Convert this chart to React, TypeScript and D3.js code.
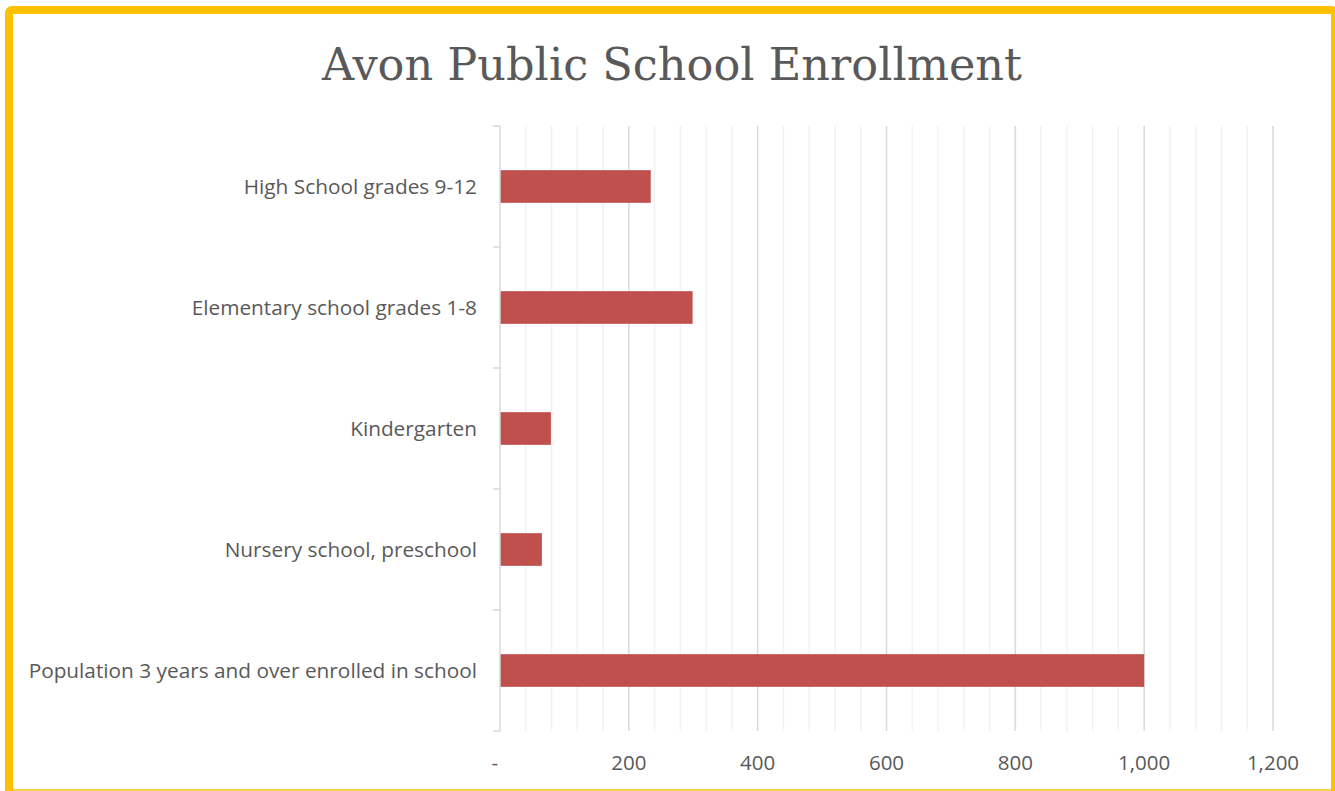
import React, { useEffect, useRef } from "react";
import * as d3 from "d3";

// categories top to bottom as drawn
const categories = [
  "High School grades 9-12",
  "Elementary school grades 1-8",
  "Kindergarten",
  "Nursery school, preschool",
  "Population 3 years and over enrolled in school",
];
const enrollment = [234, 299, 79, 65, 1000];
const xTicks = [0, 200, 400, 600, 800, 1000, 1200];

const W = 1335;
const H = 791;

const App = () => {
  const ref: any = useRef();

  useEffect(() => {
    const svg = d3.select(ref.current);
    svg.selectAll("*").remove();

    const margin = { top: 126, right: 62, bottom: 60, left: 500 };

    // frame (right and bottom edges run off the picture)
    svg
      .append("rect")
      .attr("x", 9)
      .attr("y", 10)
      .attr("width", 1326)
      .attr("height", 800)
      .attr("rx", 3)
      .attr("fill", "#fff")
      .attr("stroke", "#FFC000")
      .attr("stroke-width", 8);
    svg
      .append("line")
      .attr("x1", 5)
      .attr("x2", 1335)
      .attr("y1", 790)
      .attr("y2", 790)
      .attr("stroke", "#FFC000")
      .attr("stroke-width", 1.5);

    svg
      .append("text")
      .attr("x", 672)
      .attr("y", 80)
      .attr("text-anchor", "middle")
      .attr("font-family", "'DejaVu Serif', serif")
      .attr("font-size", 44)
      .attr("textLength", 700)
      .attr("lengthAdjust", "spacingAndGlyphs")
      .attr("fill", "#595959")
      .text("Avon Public School Enrollment");

    const x = d3
      .scaleLinear()
      .domain([0, 1200])
      .range([margin.left, W - margin.right]);

    const y = d3
      .scaleBand()
      .domain(categories)
      .range([margin.top, 731])
      .paddingInner(0.73)
      .paddingOuter(0.365);

    const g = svg.append("g");

    // minor gridlines
    g.append("g")
      .selectAll("line")
      .data(d3.range(40, 1201, 40).filter((v) => v % 200 !== 0))
      .join("line")
      .attr("x1", (d) => x(d))
      .attr("x2", (d) => x(d))
      .attr("y1", margin.top)
      .attr("y2", 731)
      .attr("stroke", "#F2F2F2")
      .attr("stroke-width", 1.5);

    // major gridlines
    g.append("g")
      .selectAll("line")
      .data(xTicks.slice(1))
      .join("line")
      .attr("x1", (d) => x(d))
      .attr("x2", (d) => x(d))
      .attr("y1", margin.top)
      .attr("y2", 731)
      .attr("stroke", "#D9D9D9")
      .attr("stroke-width", 1.5);

    // bars
    g.append("g")
      .selectAll("rect")
      .data(categories)
      .join("rect")
      .attr("x", x(0))
      .attr("y", (d) => y(d) as number)
      .attr("width", (d, i) => x(enrollment[i]) - x(0))
      .attr("height", y.bandwidth())
      .attr("fill", "#C0504D");

    // y axis line and category ticks
    g.append("line")
      .attr("x1", x(0))
      .attr("x2", x(0))
      .attr("y1", margin.top)
      .attr("y2", 731)
      .attr("stroke", "#D9D9D9")
      .attr("stroke-width", 1.5);

    const step = y.step();
    const bandTop = (y(categories[0]) as number) - (step * y.paddingInner()) / 2;
    g.append("g")
      .selectAll("line")
      .data(d3.range(categories.length + 1).map((i) => bandTop + i * step))
      .join("line")
      .attr("x1", x(0) - 7)
      .attr("x2", x(0))
      .attr("y1", (d) => d)
      .attr("y2", (d) => d)
      .attr("stroke", "#D9D9D9")
      .attr("stroke-width", 1.5);

    // category labels
    g.append("g")
      .selectAll("text")
      .data(categories)
      .join("text")
      .attr("x", x(0) - 23)
      .attr("y", (d) => (y(d) as number) + y.bandwidth() / 2)
      .attr("dy", "0.35em")
      .attr("text-anchor", "end")
      .attr("font-family", "'Open Sans', sans-serif")
      .attr("font-size", 20.8)
      .attr("fill", "#595959")
      .text((d) => d);

    // x tick labels
    g.append("g")
      .selectAll("text")
      .data(xTicks)
      .join("text")
      .attr("x", (d) => x(d))
      .attr("y", 763)
      .attr("dy", "0.35em")
      .attr("text-anchor", (d) => (d === 0 ? "end" : "middle"))
      .attr("dx", (d) => (d === 0 ? -2 : 0))
      .attr("font-family", "'Open Sans', sans-serif")
      .attr("font-size", 20.5)
      .attr("fill", "#595959")
      .text((d) => (d === 0 ? "-" : d3.format(",")(d)));
  }, []);

  return (
    <svg
      ref={ref}
      width={W}
      height={H}
      style={{ position: "absolute", left: 0, top: 0, background: "#fff" }}
    ></svg>
  );
};

export default App;
